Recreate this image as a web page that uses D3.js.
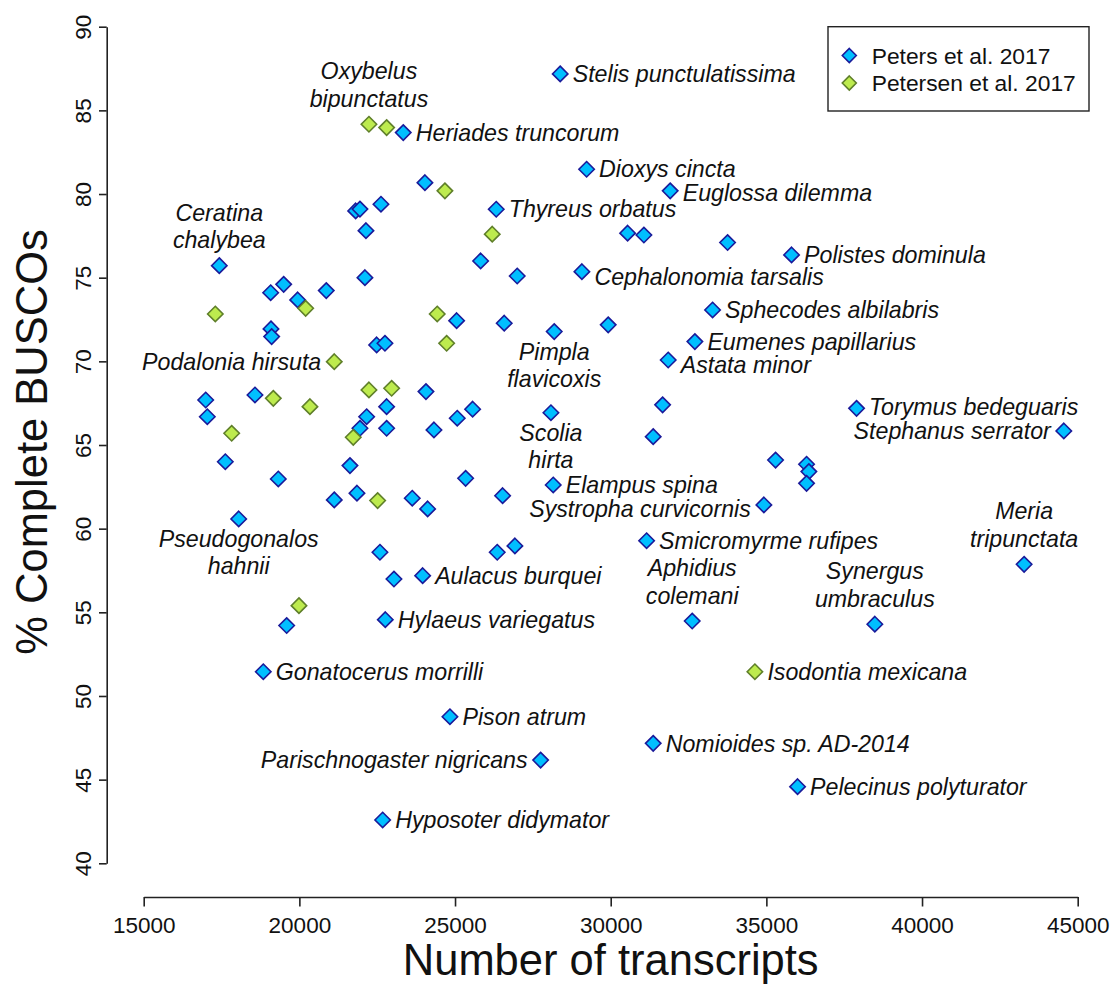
<!DOCTYPE html>
<html>
<head>
<meta charset="utf-8">
<script src="https://cdn.jsdelivr.net/npm/d3@7"></script>
<style>
  body { margin: 0; background: #fff; }
  text { font-family: "Liberation Sans", Arial, Helvetica, sans-serif; fill: #111; }
</style>
</head>
<body>
<div id="chart"></div>
<script>
'use strict';

// chart size
const W = 1113, H = 985;

// axis ticks
const xTicks = [15000, 20000, 25000, 30000, 35000, 40000, 45000];
const yTicks = [40, 45, 50, 55, 60, 65, 70, 75, 80, 85, 90];

// Peters et al. 2017 : [transcripts, % complete BUSCOs, species]
const peters = [
    [17428, 75.72, 'Ceratina\nchalybea'],
    [19078, 74.10], [19496, 74.60], [19945, 73.67], [20864, 74.23],
    [19088, 71.94], [19110, 71.48],
    [22482, 70.98], [22749, 71.08],
    [16991, 67.69], [17043, 66.69], [18574, 67.99],
    [22803, 67.29], [22161, 66.69], [21946, 66.00], [22803, 66.00],
    [17621, 64.00], [19323, 62.97], [21625, 63.77], [21850, 62.12], [21121, 61.72],
    [18051, 60.58, 'Pseudogonalos\nhahnii'],
    [22588, 58.59], [23038, 56.99], [19592, 54.21],
    [22760, 54.56, 'Hylaeus variegatus'],
    [18841, 51.45, 'Gonatocerus morrilli'],
    [22675, 42.59, 'Hyposoter didymator'],
    [23337, 83.67, 'Heriades truncorum'],
    [21808, 78.99], [21946, 79.10], [22621, 79.39], [22139, 77.81], [22106, 75.00],
    [28378, 87.18, 'Stelis punctulatissima'],
    [29226, 81.48, 'Dioxys cincta'],
    [31911, 80.19, 'Euglossa dilemma'],
    [24033, 80.68],
    [26323, 79.09, 'Thyreus orbatus'],
    [30543, 77.66], [31066, 77.55], [33754, 77.10],
    [25822, 76.00], [26997, 75.10],
    [29075, 75.36, 'Cephalonomia tarsalis'],
    [33272, 73.07, 'Sphecodes albilabris'],
    [25051, 72.43], [26580, 72.28],
    [28186, 71.78, 'Pimpla\nflavicoxis'],
    [29920, 72.18],
    [35809, 76.36, 'Polistes dominula'],
    [32704, 71.18, 'Eumenes papillarius'],
    [31847, 70.08, 'Astata minor'],
    [24066, 68.19], [25565, 67.14], [25071, 66.60], [24323, 65.90],
    [28080, 66.93, 'Scolia\nhirta'],
    [31667, 67.40], [31365, 65.50],
    [25340, 63.01], [23626, 61.82], [24120, 61.18], [26528, 61.97],
    [28154, 62.61, 'Elampus spina'],
    [34920, 61.42, 'Systropha curvicornis'],
    [26355, 58.59], [26923, 58.97],
    [31153, 59.28, 'Smicromyrme rufipes'],
    [23960, 57.19, 'Aulacus burquei'],
    [32618, 54.48, 'Aphidius\ncolemani'],
    [37897, 67.19, 'Torymus bedeguaris'],
    [44554, 65.84, 'Stephanus serrator'],
    [35295, 64.10], [36291, 63.85], [36365, 63.41], [36291, 62.71],
    [43279, 57.87, 'Meria\ntripunctata'],
    [38484, 54.29, 'Synergus\numbraculus'],
    [24836, 48.76, 'Pison atrum'],
    [27749, 46.17, 'Parischnogaster nigricans'],
    [31365, 47.17, 'Nomioides sp. AD-2014'],
    [36002, 44.58, 'Pelecinus polyturator']
];

// Petersen et al. 2017
const petersen = [
    [22235, 84.17, 'Oxybelus\nbipunctatus'],
    [22803, 83.97],
    [24675, 80.19],
    [26195, 77.60],
    [20202, 73.17], [17300, 72.83],
    [24428, 72.83], [24730, 71.08],
    [21121, 69.98, 'Podalonia hirsuta'],
    [22235, 68.29], [22964, 68.39],
    [19163, 67.79], [20340, 67.29],
    [17826, 65.70], [21731, 65.46],
    [22514, 61.68],
    [19987, 55.40],
    [34631, 51.45, 'Isodontia mexicana']
];

const seriesNames = ['Peters et al. 2017', 'Petersen et al. 2017'];

// where a label sits relative to its point (default: right)
const labelSide = {
    'Ceratina\nchalybea': 'above',
    'Oxybelus\nbipunctatus': 'above',
    'Aphidius\ncolemani': 'above',
    'Meria\ntripunctata': 'above',
    'Synergus\numbraculus': 'above',
    'Pseudogonalos\nhahnii': 'below',
    'Pimpla\nflavicoxis': 'below',
    'Scolia\nhirta': 'below',
    'Podalonia hirsuta': 'left',
    'Systropha curvicornis': 'left',
    'Stephanus serrator': 'left',
    'Parischnogaster nigricans': 'left'
};

// small vertical nudges (px) so crowded labels don't collide
const labelNudge = {
    'Astata minor': 5,
    'Cephalonomia tarsalis': 5,
    'Systropha curvicornis': 4,
    'Euglossa dilemma': 2,
    'Torymus bedeguaris': -2
};

const styles = [
    { fill: '#00BFFF', stroke: '#1a1a9a' },
    { fill: '#BDEB4E', stroke: '#5f7f2a' }
];

const svg = d3.select('#chart').append('svg')
    .attr('width', W)
    .attr('height', H);

const x = d3.scaleLinear().domain([15000, 45000]).range([143.7, 1077.7]);
const y = d3.scaleLinear().domain([40, 90]).range([863.3, 26.7]);

const fs = 22.5, lfs = 23.2;

// x axis
const gx = svg.append('g')
    .attr('transform', 'translate(0,897)')
    .call(d3.axisBottom(x).tickValues(xTicks).tickFormat(d3.format('d')).tickSize(9.5).tickSizeOuter(0));
gx.selectAll('path, line').attr('stroke', '#222').attr('stroke-width', 1.6);
gx.selectAll('text').attr('y', 36).attr('dy', 0).attr('font-size', fs).attr('fill', '#111');

// y axis
const gy = svg.append('g')
    .attr('transform', 'translate(106.7,0)')
    .call(d3.axisLeft(y).tickValues(yTicks).tickSize(7.7).tickSizeOuter(0));
gy.selectAll('path, line').attr('stroke', '#222').attr('stroke-width', 1.6);
gy.selectAll('text')
    .attr('transform', 'rotate(-90)')
    .attr('x', 0).attr('y', -15.7).attr('dy', 0)
    .attr('text-anchor', 'middle')
    .attr('font-size', fs).attr('fill', '#111');
svg.selectAll('.domain').attr('fill', 'none');
svg.selectAll('.tick text').style('font-family', '"Liberation Sans", Arial, sans-serif');

// axis titles
svg.append('text')
    .attr('x', (x(15000) + x(45000)) / 2).attr('y', 975)
    .attr('text-anchor', 'middle')
    .attr('font-size', 43.5)
    .text('Number of transcripts');

svg.append('text')
    .attr('transform', 'translate(47,442) rotate(-90)')
    .attr('text-anchor', 'middle')
    .attr('font-size', 43.5)
    .text('% Complete BUSCOs');

// diamonds
const diamond = r => `M0,${-r}L${r},0L0,${r}L${-r},0Z`;

[peters, petersen].forEach((data, i) => {
    svg.append('g').selectAll('path')
        .data(data)
        .join('path')
        .attr('d', diamond(7.7))
        .attr('transform', d => `translate(${x(d[0])},${y(d[1])})`)
        .attr('fill', styles[i].fill)
        .attr('stroke', styles[i].stroke)
        .attr('stroke-width', 1.6);
});

// species labels
const labelled = peters.concat(petersen).filter(d => d[2]);
const lg = svg.append('g').attr('font-size', lfs).attr('font-style', 'italic');

labelled.forEach(d => {
    const px = x(d[0]), py = y(d[1]) + (labelNudge[d[2]] || 0);
    const side = labelSide[d[2]] || 'right';
    const lines = d[2].split('\n');
    const t = lg.append('text');
    if (side === 'right' || side === 'left') {
        t.attr('x', side === 'right' ? px + 12.5 : px - 13)
            .attr('y', py + 8.2)
            .attr('text-anchor', side === 'right' ? 'start' : 'end')
            .text(lines[0]);
    } else {
        const lh = 27.5;
        const y0 = side === 'above' ? py - 17.5 - lh * (lines.length - 1) : py + 28;
        t.attr('text-anchor', 'middle');
        lines.forEach((s, k) => {
            t.append('tspan').attr('x', px).attr('y', y0 + k * lh).text(s);
        });
    }
});

// legend
const leg = svg.append('g');
leg.append('rect')
    .attr('x', 828).attr('y', 26.7)
    .attr('width', 261).attr('height', 84.3)
    .attr('fill', '#fff').attr('stroke', '#222').attr('stroke-width', 1.4);

seriesNames.forEach((s, i) => {
    const ly = 55.5 + i * 27.5;
    leg.append('path')
        .attr('d', diamond(7))
        .attr('transform', `translate(849.3,${ly})`)
        .attr('fill', styles[i].fill)
        .attr('stroke', styles[i].stroke)
        .attr('stroke-width', 1.6);
    leg.append('text')
        .attr('x', 871.7).attr('y', ly + 8)
        .attr('font-size', 22.8)
        .text(s);
});
</script>
</body>
</html>
